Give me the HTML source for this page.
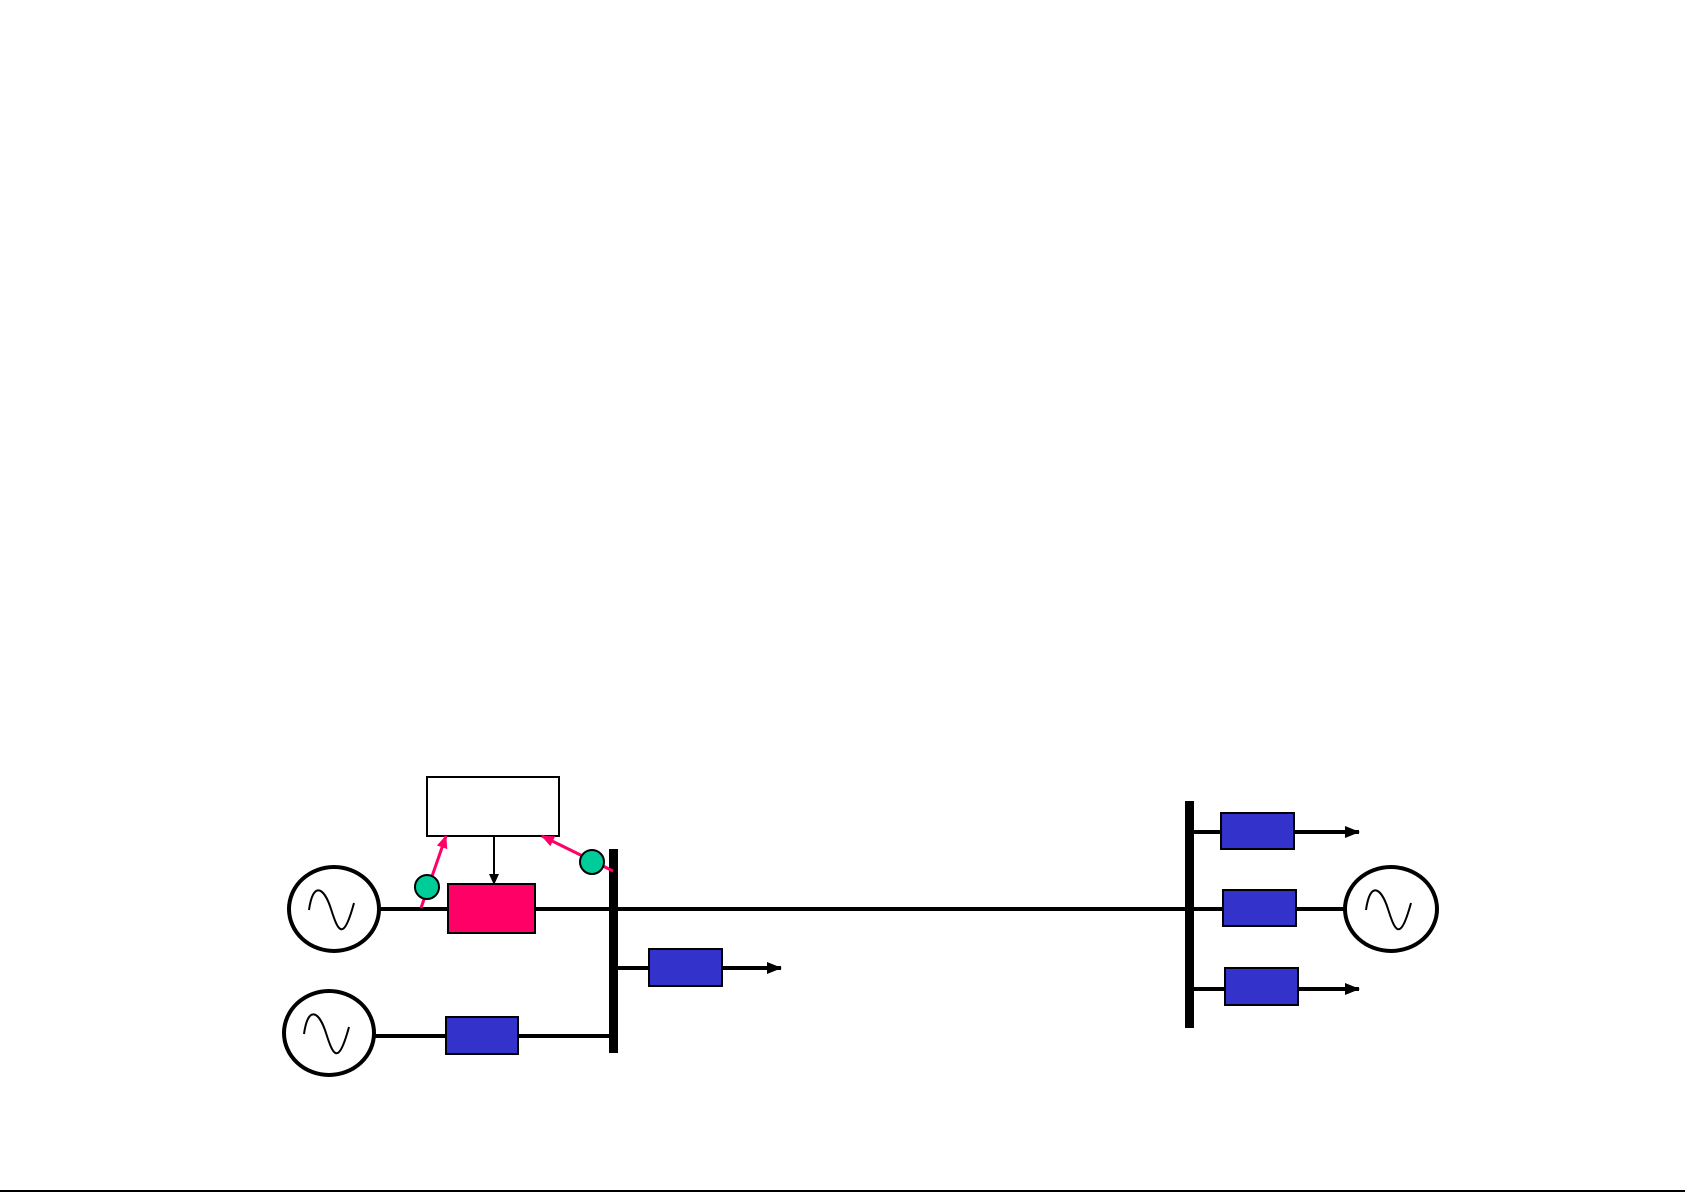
<!DOCTYPE html>
<html><head><meta charset="utf-8"><style>html,body{margin:0;padding:0;background:#fff}svg{display:block}</style></head>
<body>
<svg width="1685" height="1192" viewBox="0 0 1685 1192" xmlns="http://www.w3.org/2000/svg">
<defs>
<marker id="ab" markerWidth="11" markerHeight="10" refX="10" refY="5" orient="auto" markerUnits="userSpaceOnUse"><path d="M0,0 L11,5 L0,10 z" fill="#000"/></marker>
<marker id="ab2" markerWidth="15" markerHeight="12" refX="14" refY="6" orient="auto" markerUnits="userSpaceOnUse"><path d="M0,0 L15,6 L0,12 z" fill="#000"/></marker>
<marker id="ap" markerWidth="13" markerHeight="11" refX="12" refY="5.5" orient="auto" markerUnits="userSpaceOnUse"><path d="M0,0 L13,5.5 L0,11 z" fill="#ff0066"/></marker>
<g id="sine"><path d="M-25,1 C-21,-28 -10,-22 -3,0 S9,34 20,-6" fill="none" stroke="#000" stroke-width="2"/></g>
</defs>
<g stroke="#000" stroke-width="4" fill="none">
<line x1="375" y1="909" x2="1189" y2="909"/>
<line x1="1189" y1="909" x2="1345" y2="909"/>
<line x1="613" y1="968" x2="781" y2="968" marker-end="url(#ab2)"/>
<line x1="375" y1="1036" x2="613" y2="1036"/>
<line x1="1189" y1="832" x2="1359" y2="832" marker-end="url(#ab2)"/>
<line x1="1189" y1="989" x2="1359" y2="989" marker-end="url(#ab2)"/>
</g>
<rect x="609" y="849" width="9" height="204" fill="#000"/>
<rect x="1185" y="801" width="9" height="227" fill="#000"/>
<rect x="427" y="777" width="132" height="59" fill="#fff" stroke="#000" stroke-width="2"/>
<line x1="494" y1="836" x2="494" y2="884" stroke="#000" stroke-width="2" marker-end="url(#ab)"/>
<line x1="421" y1="908" x2="446" y2="836" stroke="#ff0066" stroke-width="3" marker-end="url(#ap)"/>
<line x1="613" y1="871" x2="542" y2="836" stroke="#ff0066" stroke-width="3" marker-end="url(#ap)"/>
<circle cx="427" cy="887" r="12" fill="#00cc99" stroke="#000" stroke-width="2"/>
<circle cx="592" cy="862" r="12" fill="#00cc99" stroke="#000" stroke-width="2"/>
<rect x="448" y="884" width="87" height="49" fill="#ff0066" stroke="#000" stroke-width="2"/>
<g fill="#3333cc" stroke="#000" stroke-width="2">
<rect x="649" y="949" width="73" height="37"/>
<rect x="446" y="1017" width="72" height="37"/>
<rect x="1221" y="813" width="73" height="36"/>
<rect x="1223" y="890" width="73" height="36"/>
<rect x="1225" y="968" width="73" height="37"/>
</g>
<g fill="#fff" stroke="#000" stroke-width="4">
<ellipse cx="334" cy="909" rx="45" ry="42"/>
<ellipse cx="329" cy="1033" rx="45" ry="42"/>
<ellipse cx="1391" cy="909" rx="46" ry="42"/>
</g>
<use href="#sine" transform="translate(334,909)"/>
<use href="#sine" transform="translate(329,1033)"/>
<use href="#sine" transform="translate(1391,909)"/>
<line x1="0" y1="1191" x2="1685" y2="1191" stroke="#000" stroke-width="2"/>
</svg>
</body></html>
